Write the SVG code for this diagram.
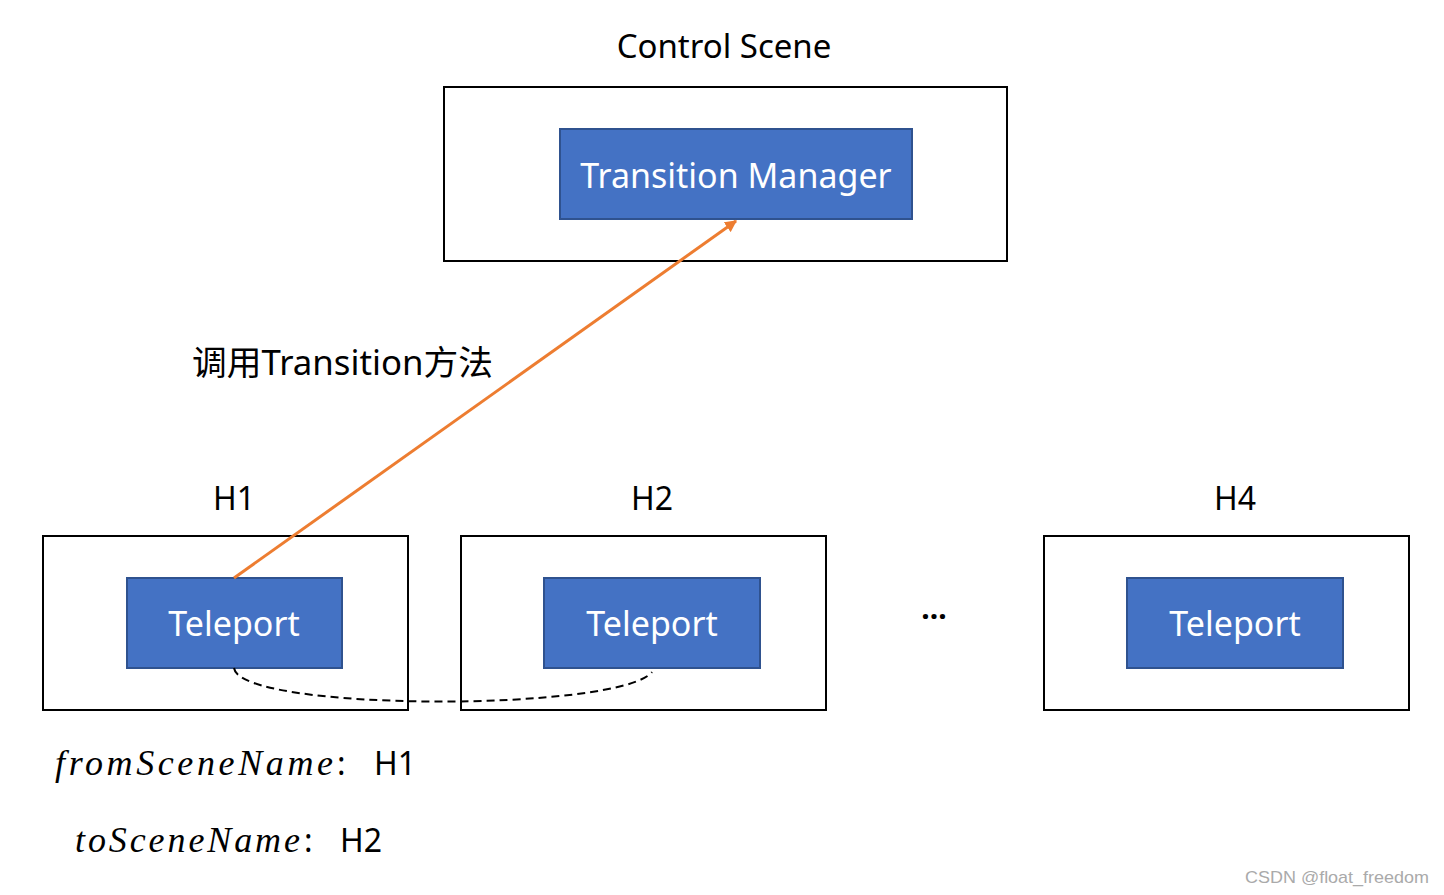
<svg xmlns="http://www.w3.org/2000/svg" width="1444" height="895" viewBox="0 0 1444 895">
<style>
.box{fill:#fff;stroke:#000;stroke-width:2}
.tp{fill:#4472C4;stroke:#2F528F;stroke-width:2}
.t{font-family:"Noto Sans","Noto Sans CJK SC",sans-serif;fill:#000}
.w{font-family:"Noto Sans","Noto Sans CJK SC",sans-serif;fill:#fff;text-anchor:middle}
.m{font-family:"Liberation Serif",serif;font-style:italic;fill:#000}
</style>
<defs>
<marker id="ah2" viewBox="0 0 10 10" refX="9" refY="5" markerWidth="12" markerHeight="12" orient="auto" markerUnits="userSpaceOnUse">
<path d="M0,0 L10,5 L0,10 z" fill="#ED7D31"/>
</marker>
</defs>
<rect width="1444" height="895" fill="#fff"/>
<g id="control-scene">
<text class="t" x="724" y="58" font-size="33" text-anchor="middle">Control Scene</text>
<rect class="box" x="444" y="87" width="563" height="174"/>
</g>
<g id="transition-manager">
<rect class="tp" x="560" y="129" width="352" height="90"/>
<text class="w" x="736" y="188" font-size="34">Transition Manager</text>
</g>
<g id="h1">
<text class="t" x="234" y="510" font-size="32" text-anchor="middle">H1</text>
<rect class="box" x="43" y="536" width="365" height="174"/>
</g>
<g id="h2">
<text class="t" x="652" y="510" font-size="32" text-anchor="middle">H2</text>
<rect class="box" x="461" y="536" width="365" height="174"/>
</g>
<g id="h4">
<text class="t" x="1235" y="510" font-size="32" text-anchor="middle">H4</text>
<rect class="box" x="1044" y="536" width="365" height="174"/>
</g>
<g id="teleport1">
<rect class="tp" x="127" y="578" width="215" height="90"/>
<text class="w" x="234" y="636" font-size="34">Teleport</text>
</g>
<g id="teleport2">
<rect class="tp" x="544" y="578" width="216" height="90"/>
<text class="w" x="652" y="636" font-size="34">Teleport</text>
</g>
<g id="teleport4">
<rect class="tp" x="1127" y="578" width="216" height="90"/>
<text class="w" x="1235" y="636" font-size="34">Teleport</text>
</g>
<g id="ellipsis">
<text class="t" x="934" y="619" font-size="30" text-anchor="middle" font-weight="bold">...</text>
</g>
<g id="connectors">
<line x1="234" y1="578" x2="736" y2="221" stroke="#ED7D31" stroke-width="3" marker-end="url(#ah2)"/>
<path d="M234,668 C240,712 620,712 652,672" fill="none" stroke="#000" stroke-width="2" stroke-dasharray="8,5"/>
</g>
<g id="labels">
<text class="t" x="192" y="375" font-size="34" textLength="301" lengthAdjust="spacingAndGlyphs">调用Transition方法</text>
<text class="m" x="55" y="775" font-size="36" textLength="278" lengthAdjust="spacing">fromSceneName</text>
<text class="t" x="337" y="775" font-size="32">:</text>
<text class="t" x="374" y="775" font-size="32">H1</text>
<text class="m" x="75" y="852" font-size="36" textLength="225" lengthAdjust="spacing">toSceneName</text>
<text class="t" x="304" y="852" font-size="32">:</text>
<text class="t" x="340" y="852" font-size="32">H2</text>
<text x="1429" y="883" font-size="17" text-anchor="end" fill="#aaa" font-family="'Liberation Sans',sans-serif" textLength="184" lengthAdjust="spacingAndGlyphs">CSDN @float_freedom</text>
</g>
</svg>
